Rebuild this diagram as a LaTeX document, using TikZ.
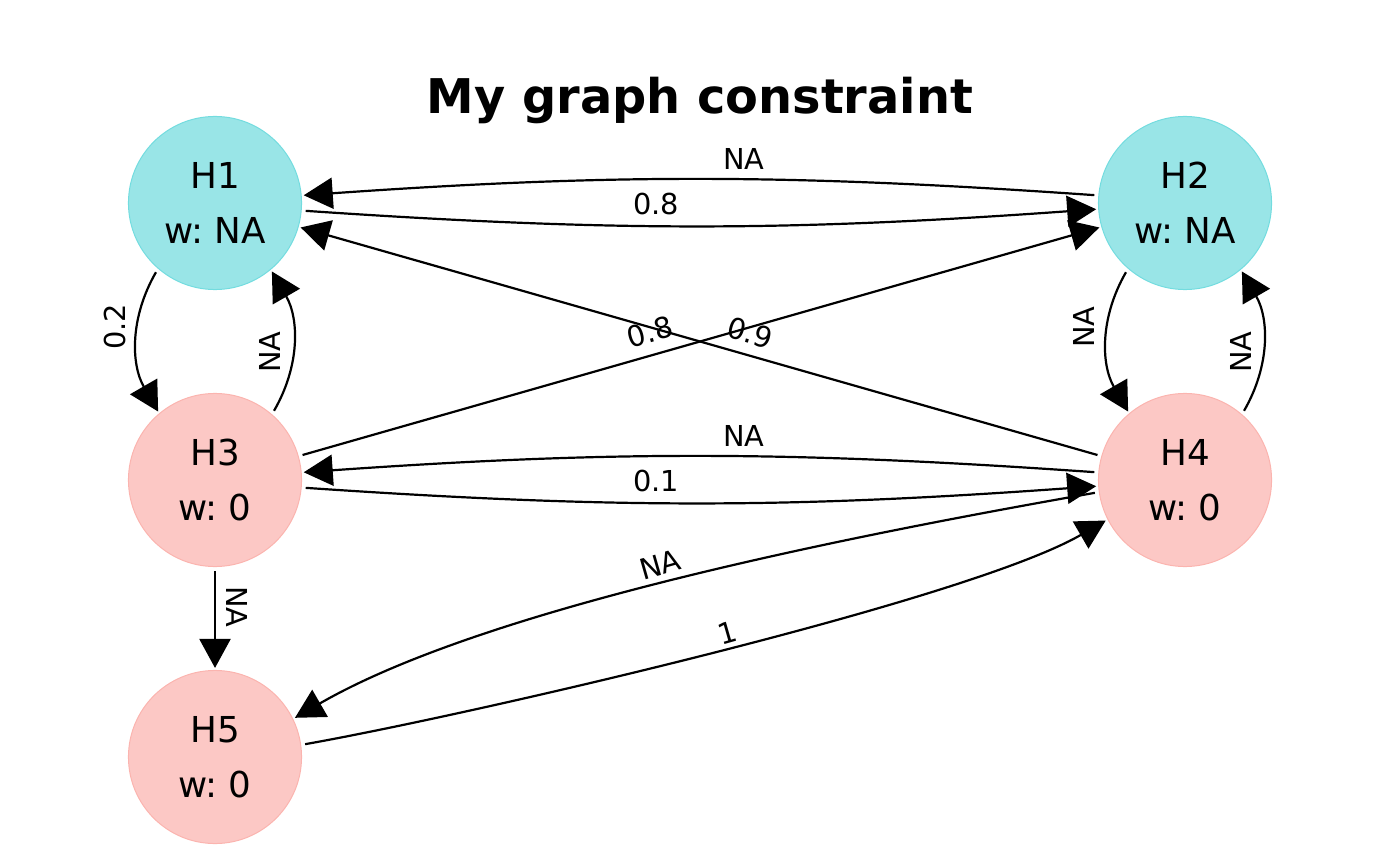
\documentclass[tikz,border=0pt]{standalone}
\usepackage{fontspec}
\setmainfont{DejaVu Sans}
\frenchspacing
\usetikzlibrary{arrows.meta}
\definecolor{node-teal}{HTML}{99E5E7}
\definecolor{node-teal-line}{HTML}{73DCDF}
\definecolor{node-pink}{HTML}{FCC8C5}
\definecolor{node-pink-line}{HTML}{FBB4AF}

\begin{document}
\begin{tikzpicture}[x=0.01cm, y=0.01cm,
        hyp/.style={circle, minimum size=1.73cm, inner sep=0pt, outer sep=0pt,
          line width=0.01cm, align=center, font=\fontsize{10.15}{15.56}\selectfont},
        hyp-top/.style={hyp, draw=node-teal-line, fill=node-teal},
        hyp-low/.style={hyp, draw=node-pink-line, fill=node-pink},
        edge/.style={-{Triangle[length=0.29cm, width=0.31cm]}, line width=0.022cm,
          shorten <=0.045cm, shorten >=0.025cm},
        lbl/.style={inner sep=0pt, font=\fontsize{8.2}{10}\selectfont}]
      \useasboundingbox (0,0) rectangle (1400,866);
      \node[anchor=base, font=\bfseries\fontsize{13.6}{16}\selectfont]
            (title) at (700,752.7) {My graph constraint};
      \node[hyp-top] (H1) at (215,663) {H1\\w: NA};
      \node[hyp-top] (H2) at (1185,663) {H2\\w: NA};
      \node[hyp-low] (H3) at (215,386) {H3\\w: 0};
      \node[hyp-low] (H4) at (1185,386) {H4\\w: 0};
      \node[hyp-low] (H5) at (215,109) {H5\\w: 0};
      % top pair
      \draw[edge] (H2.175.5) to[bend right=4] (H1.5.5)
            node[lbl] (w21) at (744,707) {NA};
      \draw[edge] (H1.355) to[bend right=4] (H2.184.4)
            node[lbl] (w12) at (656,662) {0.8};
      % middle pair
      \draw[edge] (H4.175.5) to[bend right=4] (H3.5.5)
            node[lbl] (w43) at (744,430) {NA};
      \draw[edge] (H3.355) to[bend right=4] (H4.184.4)
            node[lbl] (w34) at (656,385) {0.1};
      % crossing
      \draw[edge] (H3) -- (H2) node[lbl, rotate=16] (w32) at (650,534) {0.8};
      \draw[edge] (H4) -- (H1) node[lbl, rotate=-16] (w41) at (750,533) {0.9};
      % loops between rows
      \draw[edge] (H1.229.5) to[out=240, in=120] (H3.130.5)
            node[lbl, rotate=90] (w13) at (115,539) {0.2};
      \draw[edge] (H3.49.5) to[out=60, in=300] (H1.310.5)
            node[lbl, rotate=90] (w31) at (270,514) {NA};
      \draw[edge] (H2.229.5) to[out=240, in=120] (H4.130.5)
            node[lbl, rotate=90] (w24) at (1084,539) {NA};
      \draw[edge] (H4.49.5) to[out=60, in=300] (H2.310.5)
            node[lbl, rotate=90] (w42) at (1241,514) {NA};
      % to and from H5
      \draw[edge] (H3) -- (H5) node[lbl, rotate=-90] (w35) at (237,259) {NA};
      \draw[edge] (H4.188.4) to[out=190, in=30, looseness=0.7] (H5.26.3)
            node[lbl, rotate=16] (w45) at (660,301.5) {NA};
      \draw[edge] (H5.8.8) to[out=10, in=210, looseness=0.5] (H4.207.4)
            node[lbl, rotate=16] (w54) at (727.5,233.5) {1};
    \end{tikzpicture}
\end{document}
